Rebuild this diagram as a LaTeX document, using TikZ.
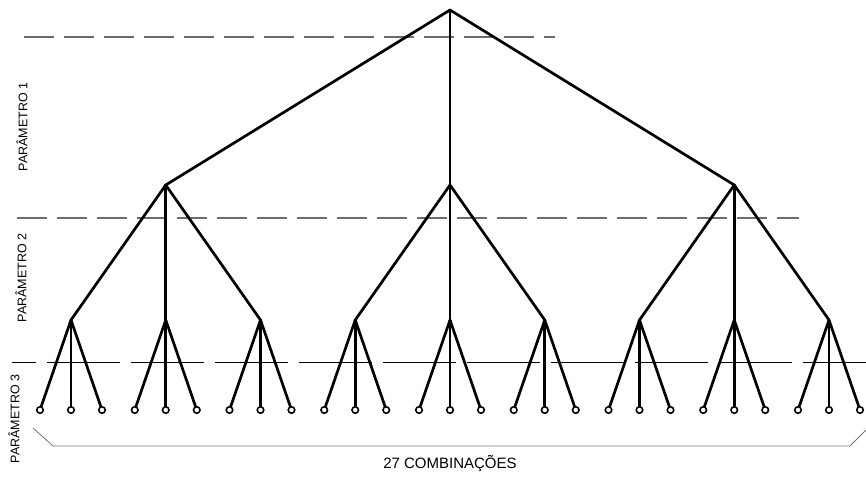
\documentclass[tikz,border=0pt]{standalone}
\usepackage{fontspec}
\setmainfont{Liberation Sans}
\begin{document}
\begin{tikzpicture}[x=1pt,y=-1pt,
  branch/.style={line width=2.7pt,line join=round,line cap=round},
  leaf/.style={circle,draw,fill=white,line width=1.6pt,inner sep=0pt,minimum size=6.5pt},
  split/.style={coordinate},
  levelline/.style={line width=1.2pt,draw=black!58,dash pattern=on 30pt off 10pt},
  lastline/.style={line width=1pt,draw=black,dash pattern=on 73pt off 11pt,dash phase=48.6pt},
  bracket/.style={line width=0.8pt,draw=black!55},
  plabel/.style={rotate=90,font=\fontsize{12.5}{14}\selectfont,inner sep=0pt},
  total/.style={font=\fontsize{15}{18}\selectfont,inner sep=0pt}]
\useasboundingbox (0,0) rectangle (866,476);

% parameter boundaries
\coordinate (d1a) at (24,37);  \coordinate (d1b) at (555,37);
\coordinate (d2a) at (17,218); \coordinate (d2b) at (799,218);
\coordinate (d3a) at (12,362); \coordinate (d3b) at (866,362);
\draw[levelline] (d1a) -- (d1b);
\draw[levelline] (d2a) -- (d2b);
\draw[lastline] (d3a) -- (d3b);

% tree
\coordinate (r) at (450,10);
\foreach \i in {1,2,3}{
  \pgfmathsetmacro{\xa}{450+(\i-2)*284.25}
  \coordinate (a\i) at (\xa,185);
  \draw[branch] (r) -- (a\i);
}
\foreach \j in {1,...,9}{
  \pgfmathsetmacro{\xb}{450+(\j-5)*94.75}
  \pgfmathtruncatemacro{\p}{(\j+2)/3}
  \coordinate (b\j) at (\xb,320);
  \draw[branch] (a\p) -- (b\j);
  \foreach \k in {-1,0,1}{
    \pgfmathsetmacro{\xc}{\xb+31*\k}
    \node[leaf] (c\j\k) at (\xc,410) {};
    \draw[branch] (b\j) -- (c\j\k);
  }
}

% labels
\node[plabel] (p1) at (22,127) {PARÂMETRO 1};
\node[plabel] (p2) at (21,278) {PARÂMETRO 2};
\node[plabel] (p3) at (14,419) {PARÂMETRO 3};

% bracket over all combinations
\coordinate (k1) at (33,428);
\coordinate (k2) at (53,446);
\coordinate (k3) at (850,446);
\coordinate (k4) at (866,430);
\draw[bracket] (k1) -- (k2) -- (k3) -- (k4);
\node[total] (t) at (450,463) {27 COMBINAÇÕES};
\end{tikzpicture}
\end{document}
